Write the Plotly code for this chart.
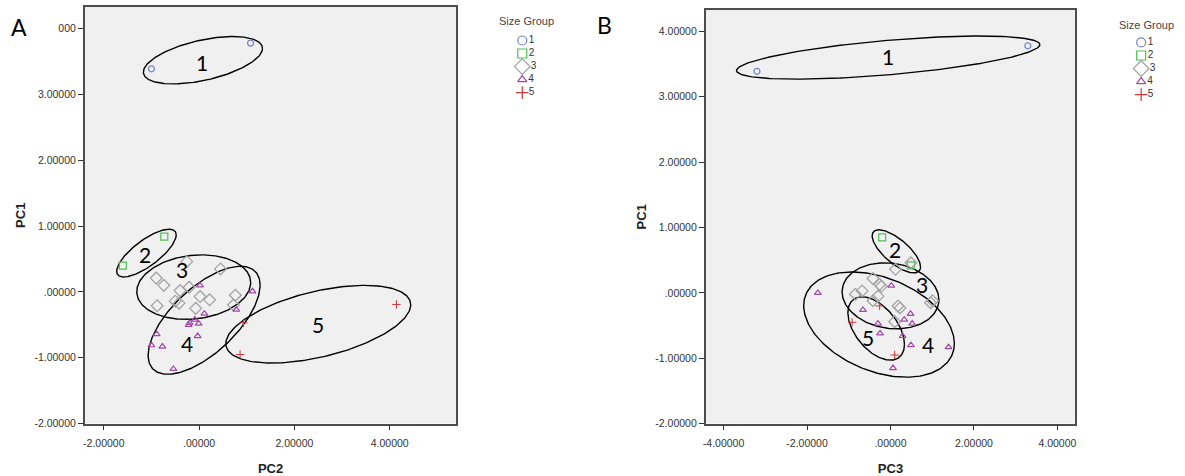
import numpy as np
import plotly.graph_objects as go

# ---------------- data ----------------
groups = ["1", "2", "3", "4", "5"]

# Panel A : PC2 (x) vs PC1 (y)
A_g1_x = [-1.00, 1.08]
A_g1_y = [3.39, 3.78]
A_g2_x = [-0.73, -1.60]
A_g2_y = [0.84, 0.40]
A_g3_x = [-0.26, 0.45, -0.90, -0.74, -0.40, -0.21, 0.02, 0.22, 0.76, -0.50, -0.42, -0.88, -0.07, 0.72]
A_g3_y = [0.46, 0.35, 0.21, 0.10, 0.02, 0.07, -0.07, -0.12, -0.05, -0.14, -0.17, -0.21, -0.25, -0.20]
A_g4_x = [0.02, 1.12, 0.11, 0.78, -0.20, -0.09, -0.01, -0.22, -0.03, -0.89, -1.00, -0.77, -0.54]
A_g4_y = [0.10, 0.01, -0.33, -0.27, -0.47, -0.42, -0.48, -0.50, -0.67, -0.64, -0.81, -0.83, -1.17]
A_g5_x = [0.93, 0.86, 4.14]
A_g5_y = [-0.47, -0.95, -0.19]

# Panel B : PC3 (x) vs PC1 (y)
B_g1_x = [-3.20, 3.29]
B_g1_y = [3.39, 3.78]
B_g2_x = [-0.20, 0.49]
B_g2_y = [0.85, 0.42]
B_g3_x = [0.49, 0.12, -0.42, -0.26, -0.22, -0.68, -0.84, -0.30, -0.42, 0.18, 0.23, 1.01, 0.96, 0.10]
B_g3_y = [0.46, 0.36, 0.22, 0.13, 0.10, 0.03, -0.02, -0.05, -0.12, -0.20, -0.23, -0.12, -0.15, -0.44]
B_g4_x = [-1.74, 0.02, -0.66, 0.48, 0.33, 0.52, -0.30, -0.25, 0.29, 0.49, 1.39, 0.06]
B_g4_y = [0.00, 0.11, -0.26, -0.32, -0.41, -0.47, -0.47, -0.62, -0.66, -0.80, -0.83, -1.15]
B_g5_x = [-0.26, -0.92, 0.10]
B_g5_y = [-0.20, -0.45, -0.95]

# group ellipses: centre x, centre y, half-extent x, half-extent y, correlation
A_ell_cx = [0.08, -1.105, -0.113, 0.105, 2.50]
A_ell_cy = [3.52, 0.59, 0.073, -0.43, -0.49]
A_ell_rx = [1.25, 0.625, 1.195, 1.175, 1.94]
A_ell_ry = [0.36, 0.363, 0.49, 0.82, 0.59]
A_ell_rho = [0.5, 0.76, 0.14, 0.65, 0.5]
A_lab_x = [0.06, -1.13, -0.35, -0.25, 2.49]
A_lab_y = [3.49, 0.575, 0.34, -0.78, -0.50]

B_ell_cx = [-0.055, 0.14, 0.0, -0.275, -0.343]
B_ell_cy = [3.60, 0.635, -0.045, -0.485, -0.545]
B_ell_rx = [3.635, 0.58, 1.16, 1.805, 0.678]
B_ell_ry = [0.33, 0.33, 0.505, 0.805, 0.485]
B_ell_rho = [0.6, -0.72, -0.12, -0.36, -0.5]
B_lab_x = [-0.06, 0.10, 0.76, 0.89, -0.53]
B_lab_y = [3.62, 0.66, 0.13, -0.79, -0.68]

# ticks
A_xtick_vals = [-2, 0, 2, 4]
A_xtick_text = ["-2.00000", ".00000", "2.00000", "4.00000"]
B_xtick_vals = [-4, -2, 0, 2, 4]
B_xtick_text = ["-4.00000", "-2.00000", ".00000", "2.00000", "4.00000"]
A_ytick_vals = [-2, -1, 0, 1, 2, 3, 4]
A_ytick_text = ["-2.00000", "-1.00000", ".00000", "1.00000", "2.00000", "3.00000", "000"]
B_ytick_vals = [-2, -1, 0, 1, 2, 3, 4]
B_ytick_text = ["-2.00000", "-1.00000", ".00000", "1.00000", "2.00000", "3.00000", "4.00000"]

# ---------------- style ----------------
symbols = ["circle-open", "square-open", "diamond-open", "triangle-up-open", "cross-thin-open"]
colors = ["#6f82c8", "#4fc05a", "#a3a3a3", "#a24aa8", "#c8383c"]
sizes = [6, 7, 9, 6, 6]
line_w = [1.2, 1.2, 1.3, 1.2, 1.0]
leg_sizes = [9, 9, 12, 8, 9]

W, H = 1185, 476
def px_x(p):
    return p / W
def px_y(p):
    return 1 - p / H

fig = go.Figure()

A_data = [(A_g1_x, A_g1_y), (A_g2_x, A_g2_y), (A_g3_x, A_g3_y), (A_g4_x, A_g4_y), (A_g5_x, A_g5_y)]
B_data = [(B_g1_x, B_g1_y), (B_g2_x, B_g2_y), (B_g3_x, B_g3_y), (B_g4_x, B_g4_y), (B_g5_x, B_g5_y)]

t = np.linspace(0, 2 * np.pi, 240)
def ellipse(cx, cy, rx, ry, rho):
    ex = cx + rx * np.cos(t)
    ey = cy + ry * (rho * np.cos(t) + np.sqrt(1 - rho ** 2) * np.sin(t))
    return ex, ey

for (data, ecx, ecy, erx, ery, erho, xa, ya) in [
    (A_data, A_ell_cx, A_ell_cy, A_ell_rx, A_ell_ry, A_ell_rho, "x", "y"),
    (B_data, B_ell_cx, B_ell_cy, B_ell_rx, B_ell_ry, B_ell_rho, "x2", "y2"),
]:
    for i in range(5):
        ex, ey = ellipse(ecx[i], ecy[i], erx[i], ery[i], erho[i])
        fig.add_trace(go.Scatter(x=ex, y=ey, mode="lines", line=dict(color="black", width=1.4),
                                 xaxis=xa, yaxis=ya, showlegend=False, hoverinfo="skip"))
    for i, (gx, gy) in enumerate(data):
        fig.add_trace(go.Scatter(x=gx, y=gy, mode="markers", name=groups[i],
                                 marker=dict(symbol=symbols[i], size=sizes[i], color=colors[i],
                                             line=dict(color=colors[i], width=line_w[i])),
                                 xaxis=xa, yaxis=ya, showlegend=False))

# cluster labels
for lx, ly, xa, ya in [(A_lab_x, A_lab_y, "x", "y"), (B_lab_x, B_lab_y, "x2", "y2")]:
    for i in range(5):
        fig.add_annotation(x=lx[i], y=ly[i], xref=xa, yref=ya, text=groups[i], showarrow=False,
                           xanchor="center", yanchor="middle",
                           font=dict(family="Lato, Open Sans, sans-serif", size=21, color="black"))

# plot-area backgrounds (only for the two scatter panels)
for xa, ya in [("x", "y"), ("x2", "y2")]:
    fig.add_shape(type="rect", xref=xa + " domain", yref=ya + " domain", x0=0, x1=1, y0=0, y1=1,
                  fillcolor="#f0f0f0", line=dict(width=0), layer="below")

# custom legends on overlay axes
rows = [1, 2, 3, 4, 5]
for (xa, ya) in [("x3", "y3"), ("x4", "y4")]:
    for i in range(5):
        fig.add_trace(go.Scatter(x=[0], y=[rows[i]], mode="markers+text", text=[groups[i]],
                                 textposition="middle right",
                                 textfont=dict(family="Arial, Liberation Sans", size=10, color="#333333"),
                                 marker=dict(symbol=symbols[i], size=leg_sizes[i], color=colors[i],
                                             line=dict(color=colors[i], width=1.2)),
                                 xaxis=xa, yaxis=ya, showlegend=False, hoverinfo="skip", cliponaxis=False))

axis_common = dict(showgrid=False, zeroline=False, showline=True, linecolor="#4d4d4d", linewidth=1.5,
                   mirror=True, ticks="outside", ticklen=5, tickcolor="#333333", tickwidth=1.2,
                   tickfont=dict(family="Arial, Liberation Sans", size=10.5, color="#333333"))
title_font = dict(family="Arial, Liberation Sans", size=13, color="#222222", weight="bold")

hidden = dict(visible=False, fixedrange=True)
row_h = 13.2
fig.update_layout(
    width=W, height=H, margin=dict(l=0, r=0, t=0, b=0),
    paper_bgcolor="white", plot_bgcolor="rgba(0,0,0,0)",
    showlegend=False,
    xaxis=dict(axis_common, domain=[px_x(82), px_x(455)], range=[-2.40, 5.40],
               tickvals=A_xtick_vals, ticktext=A_xtick_text, anchor="y", ticklabelstandoff=4,
               title=dict(text="PC2", font=title_font, standoff=16)),
    yaxis=dict(axis_common, domain=[px_y(429), px_y(7)], range=[-2.0, 4.33],
               tickvals=A_ytick_vals, ticktext=A_ytick_text, anchor="x",
               title=dict(text="PC1", font=title_font, standoff=6)),
    xaxis2=dict(axis_common, domain=[px_x(705), px_x(1076)], range=[-4.43, 4.43],
                tickvals=B_xtick_vals, ticktext=B_xtick_text, anchor="y2", ticklabelstandoff=4,
                title=dict(text="PC3", font=title_font, standoff=16)),
    yaxis2=dict(axis_common, domain=[px_y(429), px_y(10)], range=[-2.0, 4.33],
                tickvals=B_ytick_vals, ticktext=B_ytick_text, anchor="x2",
                title=dict(text="PC1", font=title_font, standoff=6)),
    xaxis3=dict(hidden, domain=[px_x(511), px_x(531)], range=[-1, 1], anchor="y3"),
    yaxis3=dict(hidden, domain=[px_y(41 + 4.5 * row_h), px_y(41 - 0.5 * row_h)], range=[5.5, 0.5], anchor="x3"),
    xaxis4=dict(hidden, domain=[px_x(1132), px_x(1152)], range=[-1, 1], anchor="y4"),
    yaxis4=dict(hidden, domain=[px_y(43 + 4.5 * row_h), px_y(43 - 0.5 * row_h)], range=[5.5, 0.5], anchor="x4"),
)

# legend titles and panel letters
for xc, yc in [(525, 21), (1147, 25)]:
    fig.add_annotation(x=px_x(xc), y=px_y(yc), xref="paper", yref="paper", text="Size Group",
                       showarrow=False, xanchor="center", yanchor="middle",
                       font=dict(family="Arial, Liberation Sans", size=11, color="#444444"))
for letter, xc, yc in [("A", 16, 27), ("B", 604, 25)]:
    fig.add_annotation(x=px_x(xc), y=px_y(yc), xref="paper", yref="paper", text=letter,
                       showarrow=False, xanchor="center", yanchor="middle",
                       font=dict(family="Lato, Open Sans, sans-serif", size=23, color="black"))

fig.write_html("out.html")
